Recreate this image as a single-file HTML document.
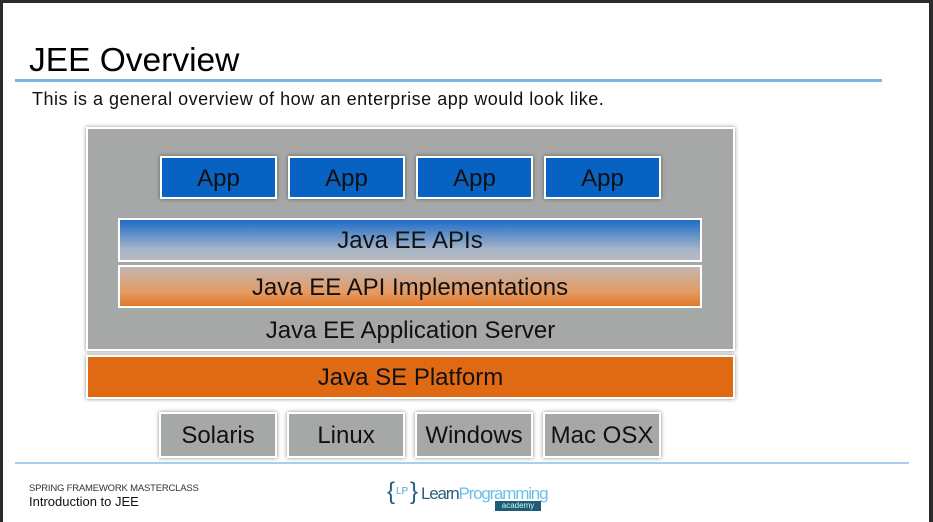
<!DOCTYPE html>
<html><head><meta charset="utf-8"><style>
*{margin:0;padding:0;box-sizing:border-box}
body{width:933px;height:522px;background:#2b2b2b;position:relative;overflow:hidden;font-family:"Liberation Sans",Arial,sans-serif}
#page{position:absolute;left:3px;top:3px;width:926px;height:519px;background:#fff}
.a{position:absolute}
.box{position:absolute;display:flex;align-items:center;justify-content:center;color:#111;border:2px solid #fff;box-shadow:0 0 4px rgba(0,0,0,.45);font-size:24px;padding-top:2px}
</style></head><body>
<div id="page"></div>
<div class="a" style="left:29px;top:42px;font-size:33.5px;color:#000;">JEE Overview</div>
<div class="a" style="left:15px;top:79px;width:867px;height:3px;background:#7db4e2"></div>
<div class="a" style="left:32px;top:89px;font-size:18px;letter-spacing:0.5px;color:#111">This is a general overview of how an enterprise app would look like.</div>

<div class="box" style="left:86px;top:127px;width:649px;height:224px;background:#a6a8a8;"></div>
<div class="a" style="left:86px;top:317px;width:649px;text-align:center;font-size:24px;color:#111">Java EE Application Server</div>

<div class="box" style="left:160px;top:156px;width:117px;height:43px;background:#0862c2">App</div>
<div class="box" style="left:288px;top:156px;width:117px;height:43px;background:#0862c2">App</div>
<div class="box" style="left:416px;top:156px;width:117px;height:43px;background:#0862c2">App</div>
<div class="box" style="left:544px;top:156px;width:117px;height:43px;background:#0862c2">App</div>

<div class="box" style="left:118px;top:218px;width:584px;height:44px;background:linear-gradient(#1d6cc8,#a9b6c8 75%,#b5b9c0);box-shadow:none">Java EE APIs</div>
<div class="box" style="left:118px;top:265px;width:584px;height:43px;background:linear-gradient(#c2b6b0,#e59a62 65%,#e2792a);box-shadow:none">Java EE API Implementations</div>

<div class="box" style="left:86px;top:355px;width:649px;height:44px;background:#e06a14">Java SE Platform</div>

<div class="box" style="left:159px;top:412px;width:118px;height:46px;background:#a6a8a8">Solaris</div>
<div class="box" style="left:287px;top:412px;width:118px;height:46px;background:#a6a8a8">Linux</div>
<div class="box" style="left:415px;top:412px;width:118px;height:46px;background:#a6a8a8">Windows</div>
<div class="box" style="left:543px;top:412px;width:118px;height:46px;background:#a6a8a8">Mac OSX</div>

<div class="a" style="left:15px;top:462px;width:894px;height:2px;background:#a8cdee"></div>
<div class="a" style="left:29px;top:483px;font-size:9.5px;color:#333;letter-spacing:-0.2px">SPRING FRAMEWORK MASTERCLASS</div>
<div class="a" style="left:29px;top:494px;font-size:13px;color:#111">Introduction to JEE</div>

<div class="a" style="left:387px;top:478px;font-size:24px;color:#2a5f7a;font-weight:300">{</div>
<div class="a" style="left:396px;top:486px;font-size:10px;color:#48a8d8">LP</div>
<div class="a" style="left:410px;top:478px;font-size:24px;color:#2a5f7a">}</div>
<div class="a" style="left:421px;top:484px;font-size:17px;color:#2a5f7a;letter-spacing:-1.2px">Learn<span style="color:#6cc0e8">Programming</span></div>
<div class="a" style="left:495px;top:501px;width:46px;height:10px;background:#1f5a78;color:#cfe;font-size:8px;line-height:10px;text-align:center">academy</div>
</body></html>
